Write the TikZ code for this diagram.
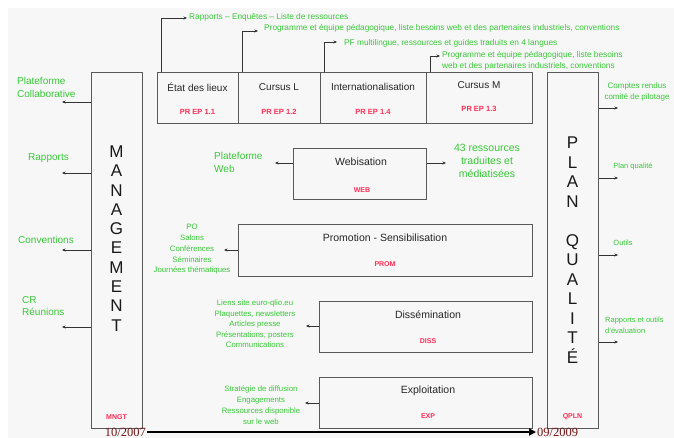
\documentclass[tikz,border=0pt]{standalone}
\usepackage{fontspec}
\setmainfont{Liberation Sans}
\newfontfamily\datefont{Liberation Serif}
\usetikzlibrary{arrows.meta}
\definecolor{vert}{RGB}{55,200,55}
\definecolor{rouge}{RGB}{255,45,85}
\definecolor{brun}{RGB}{115,20,20}
\newcommand\taille[2]{\fontsize{#1}{#2}\selectfont}
\tikzset{
  boite/.style={draw=black!65,line width=1pt,anchor=north west,inner sep=0pt},
  titre/.style={font=\taille{10.5}{12},text=black!85},
  code/.style={font=\bfseries\taille{7}{8},text=rouge},
  vtxt/.style={text=vert,inner sep=2pt},
  fleche/.style={-{Stealth[length=3.5pt,width=3pt]},black!80,line width=0.7pt},
  lettres/.style={font=\taille{17}{19.3},align=center,text=black!90},
}
\begin{document}
\begin{tikzpicture}[x=1pt,y=-1pt]
\useasboundingbox (0,0) rectangle (674,438);
\fill[black!3] (8,8) rectangle (674,438);
% colonnes laterales
\node[boite,minimum width=51pt,minimum height=356pt] (mngt) at (91,72) {};
\node[boite,minimum width=51pt,minimum height=356pt] (qpln) at (547,72) {};
\node[lettres] (mngt-t) at (116.5,238.5) {M\\A\\N\\A\\G\\E\\M\\E\\N\\T};
\node[lettres,font=\taille{17}{19.5}] (qpln-t) at (572.5,250) {P\\L\\A\\N\\[19.5pt]Q\\U\\A\\L\\I\\T\\É};
\node[code] (mngt-c) at (116.5,417) {MNGT};
\node[code] (qpln-c) at (572.5,417) {QPLN};
% lots du haut
\node[boite,minimum width=81pt,minimum height=51pt] (etat) at (157,72) {};
\node[boite,minimum width=82pt,minimum height=51pt] (cursl) at (238,72) {};
\node[boite,minimum width=106pt,minimum height=51pt] (inter) at (320,72) {};
\node[boite,minimum width=106pt,minimum height=51pt] (cursm) at (426,72) {};
\node[titre,font=\taille{10}{12}] (etat-t) at (197.5,87) {État des lieux};
\node[titre,font=\taille{10}{12}] (cursl-t) at (279,87) {Cursus L};
\node[titre,font=\taille{10}{12}] (inter-t) at (373,87) {Internationalisation};
\node[titre,font=\taille{10}{12}] (cursm-t) at (479,85) {Cursus M};
\node[code,font=\bfseries\taille{7.5}{8}] (etat-c) at (197.5,112) {PR EP 1.1};
\node[code,font=\bfseries\taille{7.5}{8}] (cursl-c) at (279,112) {PR EP 1.2};
\node[code,font=\bfseries\taille{7.5}{8}] (inter-c) at (373,112) {PR EP 1.4};
\node[code,font=\bfseries\taille{7.5}{8}] (cursm-c) at (479,109) {PR EP 1.3};
\node[vtxt,anchor=base west,font=\taille{8.3}{10}] (etat-s) at (187,19.5) {Rapports – Enquêtes – Liste de ressources};
\node[vtxt,anchor=base west,font=\taille{8.3}{10},inner xsep=6pt] (cursl-s) at (258,31) {Programme et équipe pédagogique, liste besoins web et des partenaires industriels, conventions};
\node[vtxt,anchor=base west,font=\taille{8.3}{10},inner xsep=7pt] (inter-s) at (337,45.5) {PF multilingue, ressources et guides traduits en 4 langues};
\node[vtxt,anchor=north west,align=left,font=\taille{8.3}{11}] (cursm-s) at (440,49) {Programme et équipe pédagogique, liste besoins\\web et des partenaires industriels, conventions};
\draw[fleche] ([xshift=4pt]etat.north west) |- ([yshift=1.5pt]etat-s.base west);
\draw[fleche] ([xshift=4pt]cursl.north west) |- (cursl-s.base west);
\draw[fleche] ([xshift=4pt]inter.north west) |- ([yshift=3.5pt]inter-s.base west);
\draw[fleche] ([xshift=4pt]cursm.north west) |- ([yshift=-7pt]cursm-s.north west);
% sorties du management
\node[vtxt,anchor=north west,align=left,font=\taille{10}{13}] (collab) at (15,75) {Plateforme\\Collaborative};
\node[vtxt,font=\taille{10}{13}] (rapp) at (48.5,158) {Rapports};
\node[vtxt,font=\taille{10}{13}] (conv) at (46,240) {Conventions};
\node[vtxt,anchor=north west,align=left,font=\taille{10}{12}] (reun) at (20,294) {CR\\Réunions};
\coordinate (collab-f) at (62,102);
\coordinate (rapp-f) at (62,173);
\coordinate (conv-f) at (62,250);
\coordinate (reun-f) at (62,327);
\foreach \s in {collab,rapp,conv,reun}
  \draw[fleche] (mngt.west |- \s-f) -- (\s-f);
% sorties du plan qualite
\node[vtxt,align=center,font=\taille{8}{11}] (cpil) at (637,91.5) {Comptes rendus\\comité de pilotage};
\node[vtxt,font=\taille{7.5}{10}] (pqual) at (633,167) {Plan qualité};
\node[vtxt,font=\taille{7.5}{10}] (outil) at (623,243) {Outils};
\node[vtxt,anchor=north west,align=left,font=\taille{7.5}{11}] (reval) at (603,315) {Rapports et outils\\d'évaluation};
\coordinate (cpil-f) at (618,108);
\coordinate (pqual-f) at (618,178);
\coordinate (outil-f) at (618,255);
\coordinate (reval-f) at (618,342);
\foreach \s in {cpil,pqual,outil,reval}
  \draw[fleche] (qpln.east |- \s-f) -- (\s-f);
% lots transversaux
\node[boite,minimum width=133pt,minimum height=51pt] (web) at (293,148) {};
\node[boite,minimum width=294pt,minimum height=52pt] (prom) at (238,224) {};
\node[boite,minimum width=213pt,minimum height=51pt] (diss) at (319,301) {};
\node[boite,minimum width=213pt,minimum height=51pt] (exp) at (319,377) {};
\node[titre] (web-t) at (361,162) {Webisation};
\node[titre] (prom-t) at (385,238) {Promotion - Sensibilisation};
\node[titre] (diss-t) at (428,315) {Dissémination};
\node[titre] (exp-t) at (428,391) {Exploitation};
\node[code] (web-c) at (362,190) {WEB};
\node[code] (prom-c) at (385,264) {PROM};
\node[code] (diss-c) at (428,341) {DISS};
\node[code] (exp-c) at (428,416) {EXP};
\node[vtxt,anchor=north west,align=left,font=\taille{10}{13}] (pfweb) at (212,150) {Plateforme\\Web};
\node[vtxt,align=center,font=\taille{10.5}{13}] (res43) at (487,161) {43 ressources\\traduites et\\médiatisées};
\node[vtxt,align=center,font=\taille{7.8}{10.75}] (prom-s) at (192,249.5) {PO\\Salons\\Conférences\\Séminaires\\Journées thématiques};
\node[vtxt,align=center,font=\taille{7.8}{10.5}] (diss-s) at (255,324) {Liens site euro-qlio.eu\\Plaquettes, newsletters\\Articles presse\\Présentations, posters\\Communications};
\node[vtxt,align=center,font=\taille{7.8}{11}] (exp-s) at (261,405.5) {Stratégie de diffusion\\Engagements\\Ressources disponible\\sur le web};
\coordinate (pfweb-f) at (275,163);
\coordinate (res43-f) at (446,163);
\coordinate (prom-f) at (224,250);
\coordinate (diss-f) at (306,326);
\coordinate (exp-f) at (305,403);
\draw[fleche] (web.west |- pfweb-f) -- (pfweb-f);
\draw[fleche] (web.east |- res43-f) -- (res43-f);
\draw[fleche] (prom.west |- prom-f) -- (prom-f);
\draw[fleche] (diss.west |- diss-f) -- (diss-f);
\draw[fleche] (exp.west |- exp-f) -- (exp-f);
% frise
\node[font=\datefont\taille{12.5}{14},text=brun,anchor=east,inner sep=1pt] (debut) at (147,432) {10/2007};
\node[font=\datefont\taille{12.5}{14},text=brun,anchor=west,inner sep=1pt] (fin) at (536,432) {09/2009};
\draw[line width=2.6pt,-{Triangle[length=7pt,width=7pt]}] (debut) -- (fin);
\end{tikzpicture}
\end{document}
